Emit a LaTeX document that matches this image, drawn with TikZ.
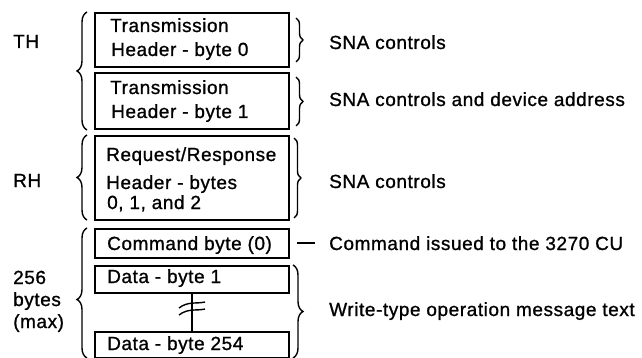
\documentclass[tikz,border=0pt]{standalone}
\usepackage{fontspec}
\setmainfont{Liberation Sans}[LetterSpace=3,FakeBold=1]
\usetikzlibrary{decorations.pathreplacing}
\begin{document}
\begin{tikzpicture}[x=1pt,y=-1pt,
  box/.style={draw, line width=1.8pt, inner sep=0pt, anchor=north west, minimum width=194pt},
  txt/.style={anchor=base west, inner sep=0pt, font=\fontsize{19}{22}\selectfont},
  brc/.style={decorate, decoration={brace, amplitude=#1}, line width=1.4pt},
  brc/.default=9pt,
  lnk/.style={line width=1.4pt}]
\useasboundingbox (0,0) rectangle (642,358);
% boxes
\node[box, minimum height=54pt] (b1) at (94,12) {};
\node[box, minimum height=56pt] (b2) at (94,72) {};
\node[box, minimum height=84pt] (b3) at (94,135) {};
\node[box, minimum height=29pt] (b4) at (94,228) {};
\node[box, minimum height=27pt] (b5) at (94,265) {};
\node[box, minimum height=26pt] (b6) at (94,331) {};
% box texts
\node[txt] (t1a) at (110,32) {Transmission};
\node[txt] (t1b) at (111,56) {Header - byte 0};
\node[txt] (t2a) at (110,94) {Transmission};
\node[txt] (t2b) at (111,118) {Header - byte 1};
\node[txt] (t3a) at (106,161) {Request/Response};
\node[txt] (t3b) at (106,189) {Header - bytes};
\node[txt] (t3c) at (107,209) {0, 1, and 2};
\node[txt] (t4) at (107,250) {Command byte (0)};
\node[txt] (t5) at (107,283) {Data - byte 1};
\node[txt] (t6) at (107,350) {Data - byte 254};
% left labels
\node[txt] (lth) at (13,48) {TH};
\node[txt] (lrh) at (13,187) {RH};
\node[txt] (l1) at (13,284) {256};
\node[txt] (l2) at (13,306) {bytes};
\node[txt] (l3) at (13,328) {(max)};
% right labels
\node[txt] (r1) at (329,49) {SNA controls};
\node[txt] (r2) at (329,106) {SNA controls and device address};
\node[txt] (r3) at (329,188) {SNA controls};
\node[txt] (r4) at (329,250) {Command issued to the 3270 CU};
\node[txt] (r5) at (329,316) {Write-type operation message text};
% left braces
\draw[brc=10pt] (87,130) -- (87,12);
\draw[brc=10pt] (87,220) -- (87,135);
\draw[brc=10pt, decoration={aspect=0.45}] (87,358) -- (87,228);
% right braces
\draw[brc=7pt] (296,18) -- (296,62);
\draw[brc=7pt] (296,77) -- (296,126);
\draw[brc=7pt] (294,138) -- (294,218);
\draw[brc=10pt] (293,265) -- (293,358);
% dash to command label
\coordinate (d1) at (297,243);
\draw[line width=1.6pt] (d1) -- ([xshift=-14pt]r4.west |- d1);
% continuation line with break mark
\draw[lnk] (b5.south) -- (b6.north);
\draw[lnk] (179,308) .. controls (188,301) and (197,304) .. (205,302);
\draw[lnk] (179,315) .. controls (188,308) and (197,311) .. (205,309);
\end{tikzpicture}
\end{document}
